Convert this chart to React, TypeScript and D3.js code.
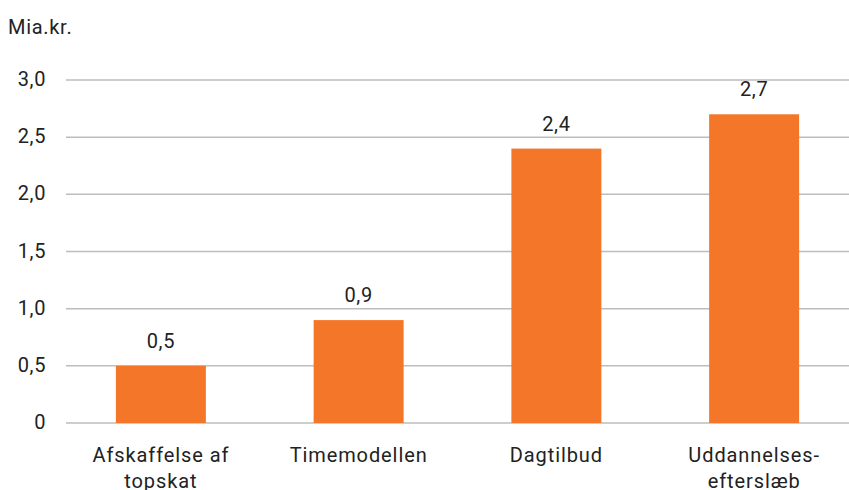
import React from "react";
import * as d3 from "d3";

const categories: string[][] = [
  ["Afskaffelse af", "topskat"],
  ["Timemodellen"],
  ["Dagtilbud"],
  ["Uddannelses-", "efterslæb"],
];
const values = [0.5, 0.9, 2.4, 2.7];
const yTicks = [0, 0.5, 1.0, 1.5, 2.0, 2.5, 3.0];
const unitLabel = "Mia.kr.";

const W = 849;
const H = 490;
const FONT = "Roboto, 'DejaVu Sans', sans-serif";
const fmt = (v: number) => (v === 0 ? "0" : v.toFixed(1).replace(".", ","));

export default function App() {
  const x = d3
    .scaleBand<number>()
    .domain(d3.range(values.length))
    .range([62, 853])
    .paddingInner(0.545)
    .paddingOuter(0.2725);
  const y = d3.scaleLinear().domain([0, 3]).range([423, 80]);

  return (
    <svg
      width={W}
      height={H}
      style={{ position: "absolute", left: 0, top: 0, background: "#fff" }}
      fontFamily={FONT}
      fontSize={20}
      fill="#222"
    >
      <text x={8} y={34} letterSpacing={0.7}>
        {unitLabel}
      </text>
      {yTicks.map((t) => (
        <g key={t}>
          <line x1={66} x2={849} y1={y(t)} y2={y(t)} stroke="#bdbdbd" strokeWidth={1.5} />
          <text x={46} y={y(t) + 6} textAnchor="end" letterSpacing={0.6}>
            {fmt(t)}
          </text>
        </g>
      ))}
      {values.map((v, i) => {
        const cx = (x(i) as number) + x.bandwidth() / 2;
        return (
          <g key={i}>
            <rect
              x={x(i)}
              y={y(v)}
              width={x.bandwidth()}
              height={y(0) - y(v)}
              fill="#F47629"
            />
            <text x={cx} y={y(v) - 18} textAnchor="middle" letterSpacing={0.6}>
              {fmt(v)}
            </text>
            {categories[i].map((line, j) => (
              <text
                key={j}
                x={cx}
                y={462 + j * 26}
                textAnchor="middle"
                letterSpacing={0.9}
              >
                {line}
              </text>
            ))}
          </g>
        );
      })}
    </svg>
  );
}
